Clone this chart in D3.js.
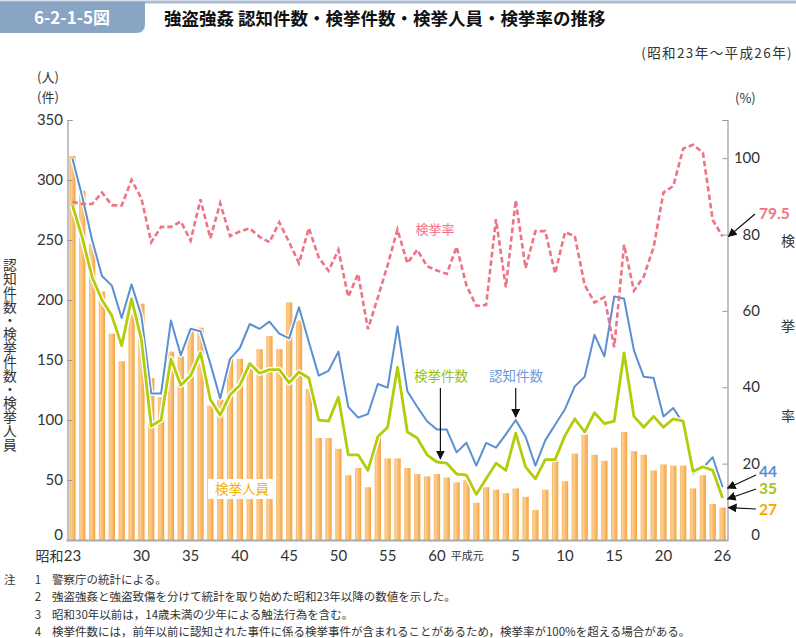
<!DOCTYPE html>
<html><head><meta charset="utf-8">
<script src="https://cdn.jsdelivr.net/npm/d3@7"></script>
<style>
body{margin:0;background:#fff}
svg{display:block;font-family:"Noto Sans CJK JP","Noto Sans",sans-serif}
</style>
</head><body>
<svg id="c" width="796" height="638"></svg>
<script>
const categories = ["昭和23","昭和24","昭和25","昭和26","昭和27","昭和28","昭和29","昭和30","昭和31","昭和32","昭和33","昭和34","昭和35","昭和36","昭和37","昭和38","昭和39","昭和40","昭和41","昭和42","昭和43","昭和44","昭和45","昭和46","昭和47","昭和48","昭和49","昭和50","昭和51","昭和52","昭和53","昭和54","昭和55","昭和56","昭和57","昭和58","昭和59","昭和60","昭和61","昭和62","昭和63","平成元","平成2","平成3","平成4","平成5","平成6","平成7","平成8","平成9","平成10","平成11","平成12","平成13","平成14","平成15","平成16","平成17","平成18","平成19","平成20","平成21","平成22","平成23","平成24","平成25","平成26"];
// 検挙人員 (bars)
const arrested = [320,291,247,207,172,149,188,197,135,119,157,153,176,177,112,117,151,151,143,159,170,159,198,183,126,85,85,76,54,60,44,86,68,68,60,55,53,55,52,48,50,31,44,42,39,43,36,25,42,66,49,72,88,71,66,77,90,74,71,58,63,62,62,43,54,30,27];
// 認知件数
const recognized = [318,286,250,220,212,185,213,187,122,122,183,154,176,174,147,118,151,160,180,176,182,172,168,194,165,137,141,157,111,102,105,130,127,178,124,111,99,92,92,73,81,62,81,77,88,100,86,62,83,96,109,128,136,171,153,203,201,158,136,135,103,110,97,55,60,69,44];
// 検挙件数
const cleared = [279,252,219,200,187,162,201,167,95,100,151,129,137,156,117,104,121,129,147,139,142,142,131,140,135,100,99,119,71,71,58,86,94,144,90,85,71,65,64,55,54,38,51,64,58,89,61,51,67,67,87,101,90,106,97,99,156,103,94,103,94,101,99,57,61,58,35];
// 検挙率 (%)
const rate = [88.6,88,88,91,87.7,87.6,94.3,89.5,78,82,82,83.4,78.4,89.2,79,88.2,79.6,80.8,81.6,79.4,78,83.2,78,72.5,81.7,74,70.5,76,63.7,69.7,55.2,63.5,72,81.3,72.5,76,71.7,70.6,69.7,76.8,66.7,61.3,61.6,84,66.2,89,71.2,80.9,80.9,69.8,80.6,79.6,66.8,62.2,63.6,50.5,77.3,65.3,69,76.7,91,92.7,102.5,103.5,101.5,83.8,79.5];

const leftTicks = [0,50,100,150,200,250,300,350];
const rightTicks = [0,20,40,60,80,100];
const xTickCats = ["昭和23","昭和30","昭和35","昭和40","昭和45","昭和50","昭和55","昭和60","平成元","平成5","平成10","平成15","平成20","平成26"];
const xTickLabels = ["昭和23","30","35","40","45","50","55","60","平成元","5","10","15","20","26"];
const notes = [
  ["注","1","警察庁の統計による。"],
  ["","2","強盗強姦と強盗致傷を分けて統計を取り始めた昭和23年以降の数値を示した。"],
  ["","3","昭和30年以前は，14歳未満の少年による触法行為を含む。"],
  ["","4","検挙件数には，前年以前に認知された事件に係る検挙事件が含まれることがあるため，検挙率が100%を超える場合がある。"]
];

const svg = d3.select("#c");
const L = 67.5, R = 727.5, T = 120, B = 540;
const NUMF = "Lato, 'Noto Sans', sans-serif";

const x = d3.scaleBand().domain(categories).range([L, R]).paddingInner(0.36).paddingOuter(0.18);
const yL = d3.scaleLinear().domain([0, 350]).range([B, T]);
const yR = d3.scaleLinear().domain([0, 110]).range([B, T]);
const cx = c => x(c) + x.bandwidth() / 2;

// defs
const defs = svg.append("defs");
const g1 = defs.append("linearGradient").attr("id","barg").attr("x1","0").attr("x2","1").attr("y1","0").attr("y2","0");
g1.append("stop").attr("offset","0%").attr("stop-color","#f8b866");
g1.append("stop").attr("offset","30%").attr("stop-color","#fbcf92");
g1.append("stop").attr("offset","100%").attr("stop-color","#f4a23e");
const mk = defs.append("marker").attr("id","arr").attr("viewBox","0 0 10 10").attr("refX","9").attr("refY","5")
  .attr("markerWidth","9").attr("markerHeight","9").attr("markerUnits","userSpaceOnUse").attr("orient","auto");
mk.append("path").attr("d","M0,0 L10,5 L0,10 z").attr("fill","#111");

// header
svg.append("path").attr("d","M0,2 H796").attr("stroke","#a9bcd4").attr("stroke-width",3);
svg.append("path").attr("d","M0,2 H145 V24 Q145,33 136,33 H0 Z").attr("fill","#8aa4c4");
svg.append("text").attr("x",72).attr("y",24).attr("text-anchor","middle").attr("fill","#fff")
  .attr("font-size",17).attr("font-weight","bold").text("6-2-1-5図");
svg.append("text").attr("x",164).attr("y",25).attr("fill","#111")
  .attr("font-size",17.5).attr("font-weight","bold").text("強盗強姦 認知件数・検挙件数・検挙人員・検挙率の推移");
svg.append("text").attr("x",793).attr("y",58).attr("text-anchor","end").attr("fill","#333")
  .attr("font-size",13.5).attr("letter-spacing",1.4).text("(昭和23年～平成26年)");
svg.append("text").attr("x",37).attr("y",82).attr("fill","#333").attr("font-size",13).text("(人)");
svg.append("text").attr("x",37).attr("y",102).attr("fill","#333").attr("font-size",13).text("(件)");
svg.append("text").attr("x",735).attr("y",103).attr("fill","#333").attr("font-size",13).text("(%)");

// bars
svg.append("g").selectAll("rect").data(categories).join("rect")
  .attr("x", c => x(c)).attr("width", x.bandwidth())
  .attr("y", (c,i) => yL(arrested[i])).attr("height", (c,i) => B - yL(arrested[i]))
  .attr("fill","url(#barg)");

// axes
const axL = svg.append("g").attr("transform",`translate(${L},0)`)
  .call(d3.axisRight(yL).tickValues(leftTicks).tickSize(5).tickFormat(""));
axL.select(".domain").attr("stroke","#999").attr("stroke-width",1.2);
axL.selectAll(".tick line").attr("stroke","#999");
svg.append("g").selectAll("text").data(leftTicks).join("text")
  .attr("x",63).attr("y",d=> d===0 ? yL(d) : yL(d)+5).attr("text-anchor","end")
  .attr("font-family",NUMF).attr("font-size",15).attr("fill","#333").text(d=>d);
const axR = svg.append("g").attr("transform",`translate(${R},0)`)
  .call(d3.axisLeft(yR).tickValues(rightTicks.concat([110])).tickSize(5).tickFormat(""));
axR.select(".domain").attr("stroke","#999").attr("stroke-width",1.2);
axR.selectAll(".tick line").attr("stroke","#999");
svg.append("g").selectAll("text").data(rightTicks).join("text")
  .attr("x",760).attr("y",d=> d===0 ? yR(d) : yR(d)+5).attr("text-anchor","end")
  .attr("font-family",NUMF).attr("font-size",15).attr("fill","#333").text(d=>d);
svg.append("line").attr("x1",L-1).attr("x2",R).attr("y1",B+0.5).attr("y2",B+0.5).attr("stroke","#aaa").attr("stroke-width",2);

// x tick labels
const xl = svg.append("g");
xTickCats.forEach((c,i)=>{
  if (i===0) {
    xl.append("text").attr("x",cx(c)-9).attr("y",561).attr("text-anchor","end").attr("font-size",14).attr("fill","#333").text("昭和");
    xl.append("text").attr("x",cx(c)).attr("y",561).attr("text-anchor","middle").attr("font-family",NUMF).attr("font-size",15).attr("fill","#333").text(xTickLabels[i].replace("昭和",""));
  } else if (c==="平成元") {
    xl.append("text").attr("x",cx(c)-9).attr("y",560).attr("text-anchor","middle").attr("font-size",11).attr("fill","#333").text(xTickLabels[i]);
  } else {
    xl.append("text").attr("x",cx(c)).attr("y",561).attr("text-anchor","middle").attr("font-family",NUMF).attr("font-size",15).attr("fill","#333").text(xTickLabels[i]);
  }
});

// lines
const lineL = d3.line().x((d,i)=>cx(categories[i])).y(d=>yL(d));
const lineR = d3.line().x((d,i)=>cx(categories[i])).y(d=>yR(d));
svg.append("path").attr("d",lineL(recognized)).attr("fill","none").attr("stroke","#fff").attr("stroke-width",4.5).attr("stroke-linejoin","round");
svg.append("path").attr("d",lineL(recognized)).attr("fill","none").attr("stroke","#5a90d2").attr("stroke-width",2).attr("stroke-linejoin","round");
svg.append("path").attr("d",lineL(cleared)).attr("fill","none").attr("stroke","#fff").attr("stroke-width",5.5).attr("stroke-linejoin","round");
svg.append("path").attr("d",lineL(cleared)).attr("fill","none").attr("stroke","#b3cc0c").attr("stroke-width",2.8).attr("stroke-linejoin","round");
svg.append("path").attr("d",lineR(rate)).attr("fill","none").attr("stroke","#ef7385").attr("stroke-width",2.6)
  .attr("stroke-dasharray","5.5,3");

// annotations
svg.append("text").attr("x",435).attr("y",234).attr("text-anchor","middle").attr("fill","#ef7385").attr("font-size",13).text("検挙率");
svg.append("text").attr("x",441).attr("y",381).attr("text-anchor","middle").attr("fill","#99c11a").attr("font-size",13.5).text("検挙件数");
svg.append("text").attr("x",516).attr("y",381).attr("text-anchor","middle").attr("fill","#6b9bd6").attr("font-size",13.5).text("認知件数");
svg.append("line").attr("x1",cx("昭和60")+3.5).attr("x2",cx("昭和60")+3.5).attr("y1",388).attr("y2",yL(66)-2).attr("stroke","#111").attr("stroke-width",1.2).attr("marker-end","url(#arr)");
svg.append("line").attr("x1",cx("平成5")).attr("x2",cx("平成5")).attr("y1",388).attr("y2",yL(recognized[45])-3).attr("stroke","#111").attr("stroke-width",1.2).attr("marker-end","url(#arr)");
svg.append("rect").attr("x",208).attr("y",479).attr("width",68).attr("height",20).attr("fill","#fff");
svg.append("text").attr("x",242).attr("y",494).attr("text-anchor","middle").attr("fill","#f2b300").attr("font-size",13.5).text("検挙人員");

// end labels
const last = categories.length - 1;
const endLab = (txt, yy, col) => svg.append("text").attr("x",759).attr("y",yy).attr("fill",col)
  .attr("font-family",NUMF).attr("font-size",15.5).attr("font-weight","bold").text(txt);
endLab(rate[last], 219, "#ef7385");
svg.append("line").attr("x1",755).attr("y1",214).attr("x2",R+1).attr("y2",yR(rate[last])).attr("stroke","#111").attr("stroke-width",1.2).attr("marker-end","url(#arr)");
endLab(recognized[last], 477, "#5a90d2");
svg.append("line").attr("x1",756).attr("y1",475).attr("x2",R).attr("y2",yL(recognized[last])+1).attr("stroke","#111").attr("stroke-width",1.2).attr("marker-end","url(#arr)");
endLab(cleared[last], 494, "#a8c20a");
svg.append("line").attr("x1",756).attr("y1",489).attr("x2",R).attr("y2",yL(cleared[last])+1).attr("stroke","#111").attr("stroke-width",1.2).attr("marker-end","url(#arr)");
endLab(arrested[last], 515, "#f2a900");
svg.append("line").attr("x1",756).attr("y1",509).attr("x2",R+1).attr("y2",yL(arrested[last])).attr("stroke","#111").attr("stroke-width",1.2).attr("marker-end","url(#arr)");

// axis titles
svg.append("text").attr("x",10).attr("y",258).attr("writing-mode","vertical-rl").attr("font-size",13.8).attr("fill","#333")
  .text("認知件数・検挙件数・検挙人員");
[["検",246],["挙",331],["率",421]].forEach(([t,yy])=>{
  svg.append("text").attr("x",788).attr("y",yy).attr("text-anchor","middle").attr("font-size",14).attr("fill","#333").text(t);
});

// notes
notes.forEach((n,i)=>{
  const yy = 584 + i*17.3;
  svg.append("text").attr("x",4).attr("y",yy).attr("font-size",11.5).attr("fill","#333").text(n[0]);
  svg.append("text").attr("x",38).attr("y",yy).attr("text-anchor","middle").attr("font-size",11.5).attr("fill","#333").text(n[1]);
  svg.append("text").attr("x",52).attr("y",yy).attr("font-size",11.5).attr("fill","#333").text(n[2]);
});
</script>
</body></html>
